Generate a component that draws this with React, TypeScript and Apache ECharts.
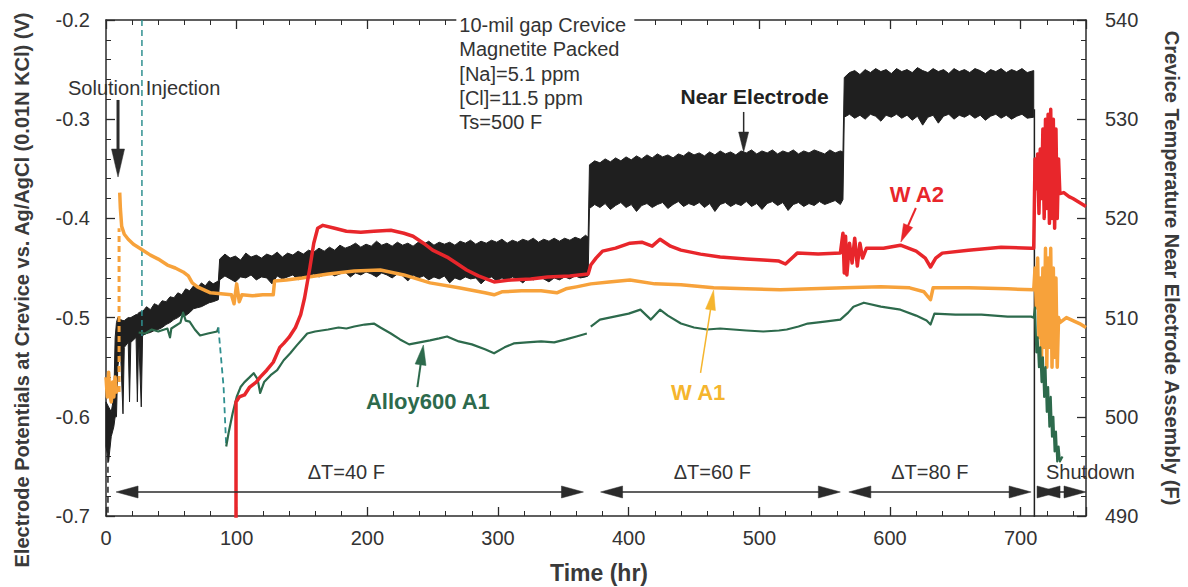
import React, { useEffect, useRef } from "react";
import * as echarts from "echarts";

// ---------- axes ----------
const X_MIN = 0;
const X_MAX = 750;
const X_STEP = 100;
const Y_MIN = -0.7;
const Y_MAX = -0.2;
const Y_STEP = 0.1;
const T_MIN = 490;
const T_MAX = 540;
const T_STEP = 10;

// ---------- series (time hr, potential V) ----------
// Near Electrode noisy band: [time, lower edge, upper edge]
const nearElectrodeBand: [number, number, number][] = [
  [0, -0.63, -0.585], [2, -0.645, -0.59], [4, -0.62, -0.595], [6, -0.61, -0.58], [7, -0.6, -0.52],
  [8, -0.6, -0.505], [9, -0.55, -0.5], [11, -0.53, -0.502], [13, -0.597, -0.503], [14, -0.53, -0.503],
  [17, -0.525, -0.5], [18, -0.585, -0.5], [19, -0.525, -0.5], [23, -0.52, -0.497], [24, -0.585, -0.497],
  [25, -0.52, -0.495], [27, -0.59, -0.494], [28, -0.518, -0.494], [31, -0.516, -0.489], [34, -0.515, -0.492],
  [37, -0.513, -0.486], [40, -0.512, -0.488], [43, -0.51, -0.483], [46, -0.507, -0.484], [49, -0.505, -0.479],
  [52, -0.502, -0.48], [55, -0.5, -0.475], [58, -0.497, -0.477], [61, -0.498, -0.471], [64, -0.495, -0.473],
  [67, -0.491, -0.468], [70, -0.49, -0.47], [73, -0.489, -0.465], [76, -0.487, -0.468], [79, -0.485, -0.463],
  [82, -0.484, -0.466], [86, -0.482, -0.463],
  [87, -0.462, -0.441], [91, -0.458, -0.436], [95, -0.461, -0.44], [99, -0.464, -0.438], [103, -0.459, -0.442],
  [107, -0.46, -0.435], [111, -0.457, -0.439], [115, -0.462, -0.437], [119, -0.459, -0.44], [123, -0.46, -0.436],
  [127, -0.466, -0.438], [131, -0.458, -0.434], [135, -0.461, -0.439], [139, -0.459, -0.435], [143, -0.457, -0.437],
  [147, -0.462, -0.433], [151, -0.458, -0.436], [155, -0.46, -0.432], [159, -0.456, -0.434], [163, -0.459, -0.43],
  [167, -0.457, -0.433], [171, -0.455, -0.429], [175, -0.458, -0.432], [179, -0.456, -0.427], [183, -0.454, -0.43],
  [187, -0.459, -0.428], [191, -0.455, -0.425], [195, -0.457, -0.429], [199, -0.454, -0.426], [203, -0.456, -0.428],
  [207, -0.459, -0.423], [211, -0.455, -0.427], [215, -0.457, -0.425], [219, -0.46, -0.428], [223, -0.456, -0.424],
  [227, -0.458, -0.427], [231, -0.463, -0.425], [235, -0.457, -0.428], [239, -0.46, -0.424], [243, -0.458, -0.426],
  [247, -0.462, -0.423], [251, -0.459, -0.427], [255, -0.461, -0.424], [259, -0.458, -0.426], [263, -0.465, -0.424],
  [267, -0.46, -0.427], [271, -0.462, -0.423], [275, -0.459, -0.425], [279, -0.461, -0.422], [283, -0.46, -0.426],
  [287, -0.466, -0.423], [291, -0.461, -0.425], [295, -0.459, -0.422], [299, -0.463, -0.424], [303, -0.46, -0.421],
  [307, -0.462, -0.425], [311, -0.459, -0.422], [315, -0.461, -0.424], [319, -0.465, -0.421], [323, -0.46, -0.423],
  [327, -0.462, -0.42], [331, -0.459, -0.424], [335, -0.461, -0.421], [339, -0.464, -0.423], [343, -0.46, -0.42],
  [347, -0.462, -0.423], [351, -0.459, -0.42], [355, -0.461, -0.422], [359, -0.458, -0.419], [363, -0.46, -0.421],
  [367, -0.459, -0.417], [369, -0.458, -0.419],
  [370, -0.39, -0.346], [374, -0.386, -0.342], [378, -0.389, -0.344], [382, -0.385, -0.34], [386, -0.391, -0.343],
  [390, -0.387, -0.339], [394, -0.384, -0.342], [398, -0.389, -0.338], [402, -0.386, -0.341], [406, -0.393, -0.337],
  [410, -0.387, -0.34], [414, -0.385, -0.336], [418, -0.389, -0.339], [422, -0.386, -0.335], [426, -0.384, -0.338],
  [430, -0.39, -0.336], [434, -0.386, -0.339], [438, -0.383, -0.335], [442, -0.388, -0.337], [446, -0.385, -0.333],
  [450, -0.387, -0.336], [454, -0.384, -0.334], [458, -0.389, -0.337], [462, -0.385, -0.333], [466, -0.393, -0.336],
  [470, -0.386, -0.332], [474, -0.384, -0.335], [478, -0.388, -0.333], [482, -0.385, -0.336], [486, -0.387, -0.332],
  [490, -0.383, -0.334], [494, -0.388, -0.331], [498, -0.385, -0.335], [502, -0.391, -0.332], [506, -0.385, -0.334],
  [510, -0.383, -0.331], [514, -0.387, -0.335], [518, -0.384, -0.332], [522, -0.392, -0.334], [526, -0.386, -0.331],
  [530, -0.384, -0.335], [534, -0.388, -0.332], [538, -0.385, -0.334], [542, -0.387, -0.331], [546, -0.383, -0.333],
  [550, -0.386, -0.335], [554, -0.384, -0.331], [558, -0.382, -0.334], [562, -0.386, -0.332], [564, -0.381, -0.333],
  [565, -0.298, -0.258], [569, -0.295, -0.253], [573, -0.299, -0.251], [577, -0.296, -0.255], [581, -0.3, -0.25],
  [585, -0.295, -0.253], [589, -0.297, -0.249], [593, -0.302, -0.252], [597, -0.296, -0.25], [601, -0.298, -0.254],
  [605, -0.295, -0.249], [609, -0.299, -0.252], [613, -0.296, -0.25], [617, -0.301, -0.253], [621, -0.297, -0.248],
  [625, -0.306, -0.251], [629, -0.298, -0.253], [633, -0.296, -0.249], [637, -0.304, -0.252], [641, -0.297, -0.25],
  [645, -0.295, -0.254], [649, -0.3, -0.249], [653, -0.296, -0.252], [657, -0.298, -0.25], [661, -0.295, -0.253],
  [665, -0.299, -0.249], [669, -0.296, -0.251], [673, -0.301, -0.254], [677, -0.297, -0.25], [681, -0.295, -0.252],
  [685, -0.299, -0.249], [689, -0.296, -0.253], [693, -0.3, -0.25], [697, -0.297, -0.252], [701, -0.295, -0.249],
  [705, -0.299, -0.253], [710, -0.298, -0.251],
];
const nearElectrodeDrop = [[710.5, -0.29], [710.5, -0.75]];
const nearElectrodeStart = [[1.5, -0.6], [1.5, -0.7]];

const wA1Early = [
  [0, -0.56], [1, -0.58], [2, -0.555], [3, -0.578], [4, -0.585], [5, -0.565], [6, -0.58], [7, -0.56], [8, -0.575], [9, -0.57],
];
const wA1Jump = [[10, -0.575], [10, -0.41]];
const wA1 = [
  [10.5, -0.374], [11, -0.39], [12, -0.408], [14, -0.416], [17, -0.421], [21, -0.426], [27, -0.431], [34, -0.437],
  [40, -0.441], [47, -0.447], [53, -0.45], [59, -0.454], [63, -0.458], [66, -0.465], [70, -0.469], [75, -0.472],
  [80, -0.475], [88, -0.476], [96, -0.477], [98, -0.486], [100, -0.466], [102, -0.484], [104, -0.477], [112, -0.478],
  [120, -0.477], [128, -0.477], [129, -0.463], [138, -0.462], [150, -0.46], [170, -0.456], [190, -0.453], [210, -0.452],
  [228, -0.457], [248, -0.465], [270, -0.47], [290, -0.475], [297, -0.477], [303, -0.474], [318, -0.473], [333, -0.473],
  [345, -0.475], [352, -0.471], [360, -0.469], [371, -0.466], [385, -0.464], [401, -0.462], [420, -0.466], [440, -0.467],
  [465, -0.47], [490, -0.471], [516, -0.472], [540, -0.471], [565, -0.47], [593, -0.469], [615, -0.47], [626, -0.474],
  [631, -0.482], [633, -0.47], [660, -0.47], [690, -0.471], [710, -0.472],
  [711, -0.45], [712, -0.49], [713, -0.44], [714, -0.52], [715, -0.46], [716, -0.54], [717, -0.45], [718, -0.53],
  [719, -0.43], [720, -0.55], [721, -0.44], [722, -0.53], [723, -0.43], [724, -0.55], [725, -0.45], [726, -0.54],
  [727, -0.46], [728, -0.55], [729, -0.5], [730, -0.505], [735, -0.5], [740, -0.503], [745, -0.506], [750, -0.51],
];

const wA2 = [
  [99.5, -0.75], [99.5, -0.585], [102, -0.58], [106, -0.578], [110, -0.57], [115, -0.565], [118, -0.56], [123, -0.553],
  [128, -0.545], [133, -0.53], [136, -0.526], [140, -0.52], [145, -0.51], [149, -0.497], [152, -0.48], [156, -0.45],
  [159, -0.425], [162, -0.41], [166, -0.407], [175, -0.41], [184, -0.413], [195, -0.414], [205, -0.413], [218, -0.412],
  [228, -0.415], [235, -0.418], [243, -0.425], [250, -0.432], [261, -0.439], [268, -0.445], [276, -0.452], [285, -0.458],
  [297, -0.464], [310, -0.462], [325, -0.461], [338, -0.459], [355, -0.458], [369, -0.456], [371, -0.447], [375, -0.44],
  [380, -0.433], [390, -0.43], [401, -0.425], [410, -0.424], [418, -0.428], [424, -0.421], [432, -0.428], [440, -0.432],
  [455, -0.436], [470, -0.439], [490, -0.441], [503, -0.442], [515, -0.443], [520, -0.446], [525, -0.44], [529, -0.435],
  [545, -0.436], [562, -0.435], [564, -0.415], [565, -0.455], [566, -0.418], [567, -0.457], [569, -0.425], [571, -0.445],
  [573, -0.42], [575, -0.448], [577, -0.425], [579, -0.44], [582, -0.43], [595, -0.43], [608, -0.427], [620, -0.433],
  [627, -0.44], [631, -0.449], [635, -0.44], [640, -0.435], [660, -0.432], [685, -0.429], [708, -0.43], [710, -0.43],
  [711, -0.34], [712, -0.37], [713, -0.335], [714, -0.395], [715, -0.33], [716, -0.38], [717, -0.31], [718, -0.4],
  [719, -0.3], [720, -0.39], [721, -0.295], [722, -0.405], [723, -0.29], [724, -0.4], [725, -0.3], [726, -0.41],
  [727, -0.31], [728, -0.4], [729, -0.34], [730, -0.375], [733, -0.374], [737, -0.378], [740, -0.38], [745, -0.384],
  [750, -0.388],
];

const alloyEarly = [
  [25, -0.515], [30, -0.516], [35, -0.512], [40, -0.514], [47, -0.511], [49, -0.52], [50, -0.511], [57, -0.505],
  [59, -0.495], [61, -0.503], [64, -0.504], [68, -0.512], [72, -0.518], [78, -0.516], [85, -0.514], [86, -0.51],
];
const alloyDrop = [[86, -0.51], [88, -0.54], [90, -0.57], [92, -0.63]];
const alloyMid = [
  [92, -0.63], [94, -0.615], [97, -0.596], [100, -0.58], [103, -0.57], [106, -0.565], [110, -0.56], [113, -0.556],
  [116, -0.562], [118, -0.576], [121, -0.565], [126, -0.558], [131, -0.553], [136, -0.543], [141, -0.536], [146, -0.528],
  [150, -0.522], [154, -0.516], [160, -0.514], [170, -0.512], [178, -0.51], [184, -0.511], [190, -0.509], [198, -0.507],
  [205, -0.506], [210, -0.51], [218, -0.516], [225, -0.522], [232, -0.527], [240, -0.525], [248, -0.523], [255, -0.521],
  [261, -0.519], [270, -0.524], [280, -0.527], [290, -0.532], [297, -0.536], [305, -0.53], [312, -0.526], [322, -0.525],
  [333, -0.524], [343, -0.525], [352, -0.522], [360, -0.519], [368, -0.516],
];
const alloyLate = [
  [371, -0.509], [378, -0.502], [389, -0.499], [400, -0.496], [409, -0.492], [413, -0.497], [417, -0.502], [424, -0.492],
  [430, -0.498], [440, -0.506], [450, -0.51], [460, -0.512], [470, -0.511], [480, -0.512], [490, -0.513], [503, -0.514],
  [515, -0.513], [521, -0.512], [530, -0.509], [537, -0.506], [550, -0.504], [562, -0.502], [568, -0.495], [572, -0.489],
  [580, -0.485], [593, -0.489], [608, -0.492], [620, -0.498], [628, -0.503], [631, -0.507], [634, -0.496], [650, -0.497],
  [670, -0.497], [690, -0.499], [708, -0.499], [710, -0.5],
  [711, -0.49], [712, -0.535], [713, -0.52], [714, -0.55], [715, -0.53], [716, -0.565], [717, -0.54], [718, -0.58],
  [719, -0.55], [720, -0.595], [721, -0.57], [722, -0.61], [723, -0.58], [724, -0.62], [725, -0.6], [726, -0.635],
  [727, -0.615], [728, -0.645], [729, -0.63], [730, -0.645], [732, -0.64],
];
const injectionLine = [[27.5, -0.2], [27.5, -0.52]];

// ---------- annotations (data coordinates) ----------
const infoLines = ["10-mil gap Crevice", "Magnetite Packed", "[Na]=5.1 ppm", "[Cl]=11.5 ppm", "Ts=500 F"];
const infoAnchor = [270.4, -0.2];

const COLOR_BLACK = "#1f1f1f";
const COLOR_RED = "#e8262b";
const COLOR_ORANGE = "#f7a23b";
const COLOR_YELLOW = "#f5b52e";
const COLOR_GREEN = "#2d6a4c";
const COLOR_TEAL = "#2f8f8f";
const TEXT_COLOR = "#333333";
const AXIS_COLOR = "#2a2a2a";
const FONT = '"Liberation Sans", Arial, Helvetica, sans-serif';

const labelTexts = [
  { text: "Solution Injection", at: [-29.1, -0.2685], align: "left", color: TEXT_COLOR, bold: false, size: 20 },
  { text: "Near Electrode", at: [496.4, -0.2776], align: "center", color: "#222222", bold: true, size: 21 },
  { text: "W A2", at: [620.5, -0.3764], align: "center", color: COLOR_RED, bold: true, size: 22 },
  { text: "W A1", at: [453.2, -0.576], align: "center", color: COLOR_YELLOW, bold: true, size: 22 },
  { text: "Alloy600 A1", at: [246.3, -0.585], align: "center", color: COLOR_GREEN, bold: true, size: 22 },
  { text: "\u0394T=40 F", at: [183.9, -0.6556], align: "center", color: TEXT_COLOR, bold: false, size: 20 },
  { text: "\u0394T=60 F", at: [464, -0.6556], align: "center", color: TEXT_COLOR, bold: false, size: 20 },
  { text: "\u0394T=80 F", at: [630.5, -0.6556], align: "center", color: TEXT_COLOR, bold: false, size: 20 },
  { text: "Shutdown", at: [719.4, -0.6556], align: "left", color: TEXT_COLOR, bold: false, size: 20 },
];

const pointerArrows = [
  { from: [9.2, -0.2806], to: [9.2, -0.3583], color: "#2b2b2b", width: 3, head: [28, 13], both: false },
  { from: [488, -0.2927], to: [488, -0.3331], color: "#2b2b2b", width: 1.5, head: [20, 10], both: false },
  { from: [619.8, -0.3895], to: [608.3, -0.4238], color: COLOR_RED, width: 2, head: [18, 10], both: false },
  { from: [455, -0.5558], to: [465, -0.4722], color: COLOR_YELLOW, width: 1.5, head: [20, 10], both: false },
  { from: [238.3, -0.57], to: [242.9, -0.5276], color: COLOR_GREEN, width: 2, head: [20, 11], both: false },
];
const ARROW_LEVEL = -0.6758;
const periodArrows = [
  { from: [7.7, ARROW_LEVEL], to: [365.4, ARROW_LEVEL], both: true },
  { from: [378.5, ARROW_LEVEL], to: [562, ARROW_LEVEL], both: true },
  { from: [568.5, ARROW_LEVEL], to: [708, ARROW_LEVEL], both: true },
  { from: [713.3, ARROW_LEVEL], to: [750, ARROW_LEVEL], both: true },
  { from: [713.3, ARROW_LEVEL], to: [729.4, ARROW_LEVEL], both: false },
];

function lineSeries(name: string, data: number[][], color: string, width: number, dashed = false, z = 3) {
  return {
    type: "line",
    name,
    data,
    xAxisIndex: 0,
    yAxisIndex: 0,
    showSymbol: false,
    symbol: "none",
    silent: true,
    z,
    lineStyle: { color, width, type: dashed ? [6, 4] : "solid", join: "round" },
    itemStyle: { color },
  };
}

function axisCommon() {
  return {
    axisLine: { show: true, onZero: false, lineStyle: { color: AXIS_COLOR, width: 1.5 } },
    axisTick: { show: true, inside: true, length: 9, lineStyle: { color: AXIS_COLOR, width: 1.3 } },
    minorTick: { show: true, splitNumber: 5, length: 5, lineStyle: { color: AXIS_COLOR, width: 1 } },
    splitLine: { show: false },
    minorSplitLine: { show: false },
  };
}

export default function App() {
  const ref = useRef<HTMLDivElement>(null);

  useEffect(() => {
    const chart = echarts.init(ref.current as HTMLDivElement, null, { renderer: "svg" });

    const option: any = {
      animation: false,
      backgroundColor: "#ffffff",
      grid: { left: 106, right: 102, top: 20, bottom: 71, containLabel: false },
      xAxis: [
        {
          type: "value", min: X_MIN, max: X_MAX, interval: X_STEP, position: "bottom",
          ...axisCommon(),
          axisLabel: { fontSize: 20, color: TEXT_COLOR, margin: 12, fontFamily: FONT, showMaxLabel: false },
        },
        {
          type: "value", min: X_MIN, max: X_MAX, interval: X_STEP, position: "top",
          ...axisCommon(),
          axisLabel: { show: false },
        },
      ],
      yAxis: [
        {
          type: "value", min: Y_MIN, max: Y_MAX, interval: Y_STEP, position: "left",
          ...axisCommon(),
          axisLabel: {
            fontSize: 20, color: TEXT_COLOR, margin: 16, fontFamily: FONT,
            formatter: (v: number) => v.toFixed(1),
          },
        },
        {
          type: "value", min: T_MIN, max: T_MAX, interval: T_STEP, position: "right",
          ...axisCommon(),
          axisLabel: { fontSize: 20, color: TEXT_COLOR, margin: 19, fontFamily: FONT },
        },
      ],
      series: [
        {
          type: "custom",
          name: "Near Electrode",
          xAxisIndex: 0,
          yAxisIndex: 0,
          silent: true,
          z: 2,
          data: [[nearElectrodeBand[0][0], nearElectrodeBand[0][2]]],
          renderItem: (_params: any, api: any) => {
            const upper = nearElectrodeBand.map((d) => api.coord([d[0], d[2]]));
            const lower = nearElectrodeBand.map((d) => api.coord([d[0], d[1]])).reverse();
            return {
              type: "polygon",
              shape: { points: upper.concat(lower) },
              style: { fill: COLOR_BLACK, stroke: COLOR_BLACK, lineWidth: 1 },
            };
          },
        },
        lineSeries("Near Electrode drop", nearElectrodeDrop, COLOR_BLACK, 1.5, false, 2),
        lineSeries("Near Electrode start", nearElectrodeStart, COLOR_BLACK, 1.5, true, 2),
        lineSeries("Injection", injectionLine, COLOR_TEAL, 1.5, true),
        lineSeries("W A1 early", wA1Early, COLOR_ORANGE, 3.5),
        lineSeries("W A1 jump", wA1Jump, COLOR_ORANGE, 3, true),
        lineSeries("W A1", wA1, COLOR_ORANGE, 3.5),
        lineSeries("Alloy600 A1 early", alloyEarly, COLOR_GREEN, 2.2),
        lineSeries("Alloy600 A1 drop", alloyDrop, COLOR_TEAL, 1.8, true),
        lineSeries("Alloy600 A1", alloyMid, COLOR_GREEN, 2.2),
        lineSeries("Alloy600 A1 late", alloyLate, COLOR_GREEN, 2.2),
        lineSeries("W A2", wA2, COLOR_RED, 3.5),
      ],
    };
    chart.setOption(option);

    const px = (p: number[]) => chart.convertToPixel({ seriesIndex: 1 }, p) as number[];
    const graphics: any[] = [];

    // info text block (covers the top axis like the original)
    const infoPos = px(infoAnchor);
    graphics.push({
      type: "rect", z: 90, silent: true,
      shape: { x: infoPos[0] - 3, y: infoPos[1] - 8, width: 178, height: 22 },
      style: { fill: "#ffffff" },
    });
    graphics.push({
      type: "text", z: 100, silent: true, x: infoPos[0], y: infoPos[1] - 7,
      style: {
        text: infoLines.join("\n"), font: `20px ${FONT}`, fill: TEXT_COLOR, lineHeight: 24.3,
        align: "left", textAlign: "left", verticalAlign: "top", textVerticalAlign: "top",
      },
    });

    labelTexts.forEach((l) => {
      const p = px(l.at);
      graphics.push({
        type: "text", z: 100, silent: true, x: p[0], y: p[1],
        style: {
          text: l.text, font: `${l.bold ? "bold " : ""}${l.size}px ${FONT}`, fill: l.color,
          align: l.align, textAlign: l.align, verticalAlign: "middle", textVerticalAlign: "middle",
        },
      });
    });

    const addArrow = (from: number[], to: number[], color: string, width: number, head: number[], both: boolean) => {
      const p1 = px(from);
      const p2 = px(to);
      const dx = p2[0] - p1[0];
      const dy = p2[1] - p1[1];
      const len = Math.hypot(dx, dy) || 1;
      const ux = dx / len;
      const uy = dy / len;
      const nx = -uy;
      const ny = ux;
      const L = head[0];
      const W = head[1] / 2;
      const headAt = (tip: number[], dir: number) => {
        const bx = tip[0] - dir * ux * L;
        const by = tip[1] - dir * uy * L;
        return {
          type: "polygon", z: 101, silent: true,
          shape: { points: [[tip[0], tip[1]], [bx + nx * W, by + ny * W], [bx - nx * W, by - ny * W]] },
          style: { fill: color, stroke: color, lineWidth: 0.5 },
        };
      };
      const s = both ? [p1[0] + ux * L * 0.7, p1[1] + uy * L * 0.7] : p1;
      const e = [p2[0] - ux * L * 0.7, p2[1] - uy * L * 0.7];
      graphics.push({
        type: "line", z: 100, silent: true,
        shape: { x1: s[0], y1: s[1], x2: e[0], y2: e[1] },
        style: { stroke: color, lineWidth: width },
      });
      graphics.push(headAt(p2, 1));
      if (both) graphics.push(headAt(p1, -1));
    };

    pointerArrows.forEach((a) => addArrow(a.from, a.to, a.color, a.width, a.head, a.both));
    periodArrows.forEach((a) => addArrow(a.from, a.to, "#2b2b2b", 1.5, [22, 12], a.both));

    // axis titles
    graphics.push({
      type: "text", z: 100, silent: true, x: 22, y: 290, rotation: Math.PI / 2,
      style: {
        text: "Electrode Potentials at Crevice vs. Ag/AgCl (0.01N KCl) (V)", font: `bold 20px ${FONT}`,
        fill: "#3a3a3a", align: "center", textAlign: "center", verticalAlign: "middle", textVerticalAlign: "middle",
      },
    });
    graphics.push({
      type: "text", z: 100, silent: true, x: 1172, y: 268, rotation: -Math.PI / 2,
      style: {
        text: "Crevice Temperature Near Electrode Assembly (F)", font: `bold 20px ${FONT}`,
        fill: "#3a3a3a", align: "center", textAlign: "center", verticalAlign: "middle", textVerticalAlign: "middle",
      },
    });
    graphics.push({
      type: "text", z: 100, silent: true, x: 599, y: 573,
      style: {
        text: "Time (hr)", font: `bold 23px ${FONT}`, fill: "#3a3a3a",
        align: "center", textAlign: "center", verticalAlign: "middle", textVerticalAlign: "middle",
      },
    });

    chart.setOption({ graphic: graphics });

    return () => {
      chart.dispose();
    };
  }, []);

  return (
    <div
      ref={ref}
      style={{ position: "fixed", left: 0, top: 0, width: 1188, height: 587, background: "#ffffff" }}
    />
  );
}
